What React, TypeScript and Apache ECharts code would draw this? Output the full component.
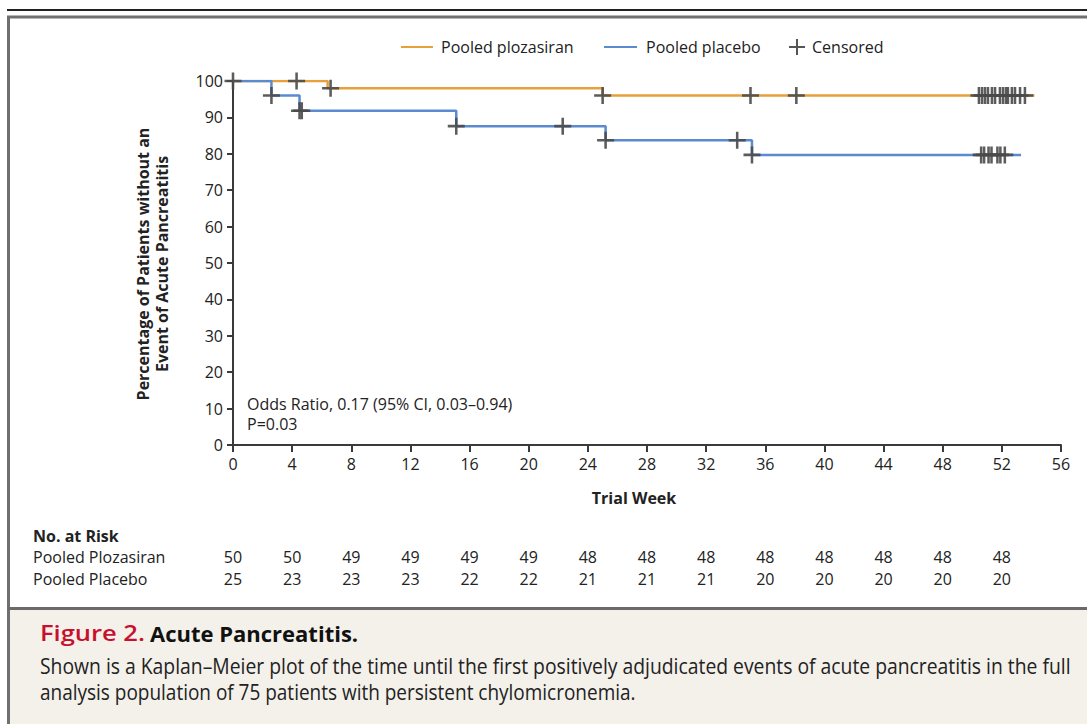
import React, { useEffect, useRef } from "react";
import * as echarts from "echarts";

// ---- data ----
const xTicks = [0, 4, 8, 12, 16, 20, 24, 28, 32, 36, 40, 44, 48, 52];

const plozTimes = [0, 6.4, 25.0, 54.2];
const plozSurv = [100, 98, 96, 96];

const placTimes = [0, 2.6, 4.5, 15.1, 25.2, 35.1, 53.3];
const placSurv = [100, 96, 91.8, 87.6, 83.7, 79.7, 79.7];

const plozCensorWeeks = [0, 4.3, 6.6, 25.0, 35.0, 38.1, 50.45, 50.66, 50.86, 51.06, 51.33, 51.54, 51.87, 52.08, 52.28, 52.41, 52.68, 52.89, 53.23, 53.56];
const plozCensorSurv = [100, 100, 98, 96, 96, 96, 96, 96, 96, 96, 96, 96, 96, 96, 96, 96, 96, 96, 96, 96];

const placCensorWeeks = [2.6, 4.5, 4.65, 15.1, 22.3, 25.2, 34.1, 35.1, 50.6, 50.8, 51.1, 51.3, 51.7, 51.9, 52.2];
const placCensorSurv = [96, 91.8, 91.8, 87.6, 87.6, 83.7, 83.7, 79.7, 79.7, 79.7, 79.7, 79.7, 79.7, 79.7, 79.7];

const riskPloz = [50, 50, 49, 49, 49, 49, 48, 48, 48, 48, 48, 48, 48, 48];
const riskPlac = [25, 23, 23, 23, 22, 22, 21, 21, 21, 20, 20, 20, 20, 20];

const captionTitleRed = "Figure 2.";
const captionTitle = "Acute Pancreatitis.";
const captionLine1 =
  "Shown is a Kaplan\u2013Meier plot of the time until the first positively adjudicated events of acute pancreatitis in the full";
const captionLine2 = "analysis population of 75 patients with persistent chylomicronemia.";

const ORANGE = "#E8A03A";
const BLUE = "#5A8AD0";
const AXIS = "#3a3a3a";
const CENSOR = "#4a4a4a";
const TEXT = "#222222";
const FONT = "'Open Sans', 'Noto Sans', sans-serif";

const PLUS = "path://M6.8,0H9.2V6.8H16V9.2H9.2V16H6.8V9.2H0V6.8H6.8Z";

function measure(text: string, font: string): number {
  const c = document.createElement("canvas");
  const ctx = c.getContext("2d")!;
  ctx.font = font;
  return ctx.measureText(text).width;
}

export default function App() {
  const ref = useRef<HTMLDivElement>(null);

  useEffect(() => {
    document.body.style.margin = "0";
    const chart = echarts.init(ref.current!, null, { renderer: "svg" });

    chart.setOption({
      animation: false,
      backgroundColor: "#ffffff",
      textStyle: { fontFamily: FONT },
      grid: { left: 233, right: 26, top: 81, bottom: 279 },
      xAxis: {
        type: "value",
        min: 0,
        max: 56,
        interval: 4,
        axisLine: { show: true, onZero: false, lineStyle: { color: AXIS, width: 2 } },
        axisTick: { show: true, length: 7, lineStyle: { color: AXIS, width: 2 } },
        axisLabel: { color: TEXT, fontSize: 16, margin: 11, fontFamily: FONT },
        splitLine: { show: false },
      },
      yAxis: {
        type: "value",
        min: 0,
        max: 100,
        interval: 10,
        axisLine: { show: true, lineStyle: { color: AXIS, width: 2 } },
        axisTick: { show: true, length: 6, lineStyle: { color: AXIS, width: 2 } },
        axisLabel: { color: TEXT, fontSize: 16, margin: 10, fontFamily: FONT },
        splitLine: { show: false },
      },
      series: [
        {
          name: "Pooled plozasiran",
          type: "line",
          step: "end",
          showSymbol: false,
          silent: true,
          lineStyle: { color: ORANGE, width: 2.5 },
          data: plozTimes.map((t, i) => [t, plozSurv[i]]),
          z: 2,
        },
        {
          name: "Pooled placebo",
          type: "line",
          step: "end",
          showSymbol: false,
          silent: true,
          lineStyle: { color: BLUE, width: 2.5 },
          data: placTimes.map((t, i) => [t, placSurv[i]]),
          z: 2,
        },
        {
          name: "Censored plozasiran",
          type: "scatter",
          symbol: PLUS,
          symbolSize: 17,
          silent: true,
          itemStyle: { color: CENSOR, opacity: 0.9 },
          data: plozCensorWeeks.map((t, i) => [t, plozCensorSurv[i]]),
          z: 3,
        },
        {
          name: "Censored placebo",
          type: "scatter",
          symbol: PLUS,
          symbolSize: 17,
          silent: true,
          itemStyle: { color: CENSOR, opacity: 0.9 },
          data: placCensorWeeks.map((t, i) => [t, placCensorSurv[i]]),
          z: 3,
        },
      ],
    });

    const px = (w: number) => chart.convertToPixel({ xAxisIndex: 0 }, w) as number;

    const riskTexts: any[] = [];
    xTicks.forEach((w, i) => {
      const x = px(w);
      riskTexts.push({
        type: "text",
        x,
        y: 557,
        style: { text: String(riskPloz[i]), font: `16px ${FONT}`, fill: TEXT, align: "center", verticalAlign: "middle" },
      });
      riskTexts.push({
        type: "text",
        x,
        y: 579,
        style: { text: String(riskPlac[i]), font: `16px ${FONT}`, fill: TEXT, align: "center", verticalAlign: "middle" },
      });
    });

    const capFont = `21px ${FONT}`;
    const redFont = `600 22px ${FONT}`;
    const boldFont = `bold 22px ${FONT}`;
    const sRed = 105 / measure(captionTitleRed, redFont);
    const sTitle = 208 / measure(captionTitle, boldFont);
    const s1 = 1031 / measure(captionLine1, capFont);
    const s2 = 596 / measure(captionLine2, capFont);

    chart.setOption({
      graphic: [
        // frame
        { type: "line", shape: { x1: 7, y1: 10, x2: 1087, y2: 10 }, style: { stroke: "#222", lineWidth: 2 } },
        { type: "polyline", shape: { points: [[8.5, 724], [8.5, 17], [1087, 17]] }, style: { stroke: "#707070", lineWidth: 3, fill: null } },
        { type: "rect", shape: { x: 10, y: 609, width: 1077, height: 115 }, style: { fill: "#F4F1EB" } },
        { type: "line", shape: { x1: 8, y1: 608.5, x2: 1087, y2: 608.5 }, style: { stroke: "#6a6a6a", lineWidth: 3 } },
        // legend
        { type: "line", shape: { x1: 401, y1: 47, x2: 433, y2: 47 }, style: { stroke: ORANGE, lineWidth: 2 } },
        { type: "text", x: 441, y: 47, style: { text: "Pooled plozasiran", font: `16px ${FONT}`, fill: TEXT, verticalAlign: "middle" } },
        { type: "line", shape: { x1: 604, y1: 47, x2: 637, y2: 47 }, style: { stroke: BLUE, lineWidth: 2 } },
        { type: "text", x: 646, y: 47, style: { text: "Pooled placebo", font: `16px ${FONT}`, fill: TEXT, verticalAlign: "middle" } },
        { type: "line", shape: { x1: 789, y1: 47, x2: 805, y2: 47 }, style: { stroke: "#555", lineWidth: 2 } },
        { type: "line", shape: { x1: 797, y1: 39, x2: 797, y2: 55 }, style: { stroke: "#555", lineWidth: 2 } },
        { type: "text", x: 812, y: 47, style: { text: "Censored", font: `16px ${FONT}`, fill: TEXT, verticalAlign: "middle" } },
        // axis names
        {
          type: "text",
          x: 152,
          y: 264,
          rotation: Math.PI / 2,
          style: {
            text: "Percentage of Patients without an\nEvent of Acute Pancreatitis",
            font: `bold 16px ${FONT}`,
            fill: TEXT,
            align: "center",
            verticalAlign: "middle",
            lineHeight: 19,
          },
        },
        { type: "text", x: 634, y: 498, style: { text: "Trial Week", font: `bold 16px ${FONT}`, fill: TEXT, align: "center", verticalAlign: "middle" } },
        // annotation
        { type: "text", x: 247, y: 404, style: { text: "Odds Ratio, 0.17 (95% CI, 0.03\u20130.94)", font: `16px ${FONT}`, fill: TEXT, verticalAlign: "middle" } },
        { type: "text", x: 247, y: 424, style: { text: "P=0.03", font: `16px ${FONT}`, fill: TEXT, verticalAlign: "middle" } },
        // risk table
        { type: "text", x: 33, y: 536, style: { text: "No. at Risk", font: `bold 16px ${FONT}`, fill: TEXT, verticalAlign: "middle" } },
        { type: "text", x: 33, y: 557, style: { text: "Pooled Plozasiran", font: `16px ${FONT}`, fill: TEXT, verticalAlign: "middle" } },
        { type: "text", x: 33, y: 579, style: { text: "Pooled Placebo", font: `16px ${FONT}`, fill: TEXT, verticalAlign: "middle" } },
        ...riskTexts,
        // caption
        { type: "text", x: 40, y: 633, scaleX: sRed, style: { text: captionTitleRed, font: redFont, fill: "#C8102E", verticalAlign: "middle" } },
        { type: "text", x: 150, y: 633, scaleX: sTitle, style: { text: captionTitle, font: boldFont, fill: "#111", verticalAlign: "middle" } },
        { type: "text", x: 40, y: 666, scaleX: s1, style: { text: captionLine1, font: capFont, fill: TEXT, verticalAlign: "middle" } },
        { type: "text", x: 40, y: 692, scaleX: s2, style: { text: captionLine2, font: capFont, fill: TEXT, verticalAlign: "middle" } },
      ],
    });

    return () => chart.dispose();
  }, []);

  return (
    <div
      ref={ref}
      style={{ position: "absolute", left: 0, top: 0, width: 1087, height: 724 }}
    />
  );
}
